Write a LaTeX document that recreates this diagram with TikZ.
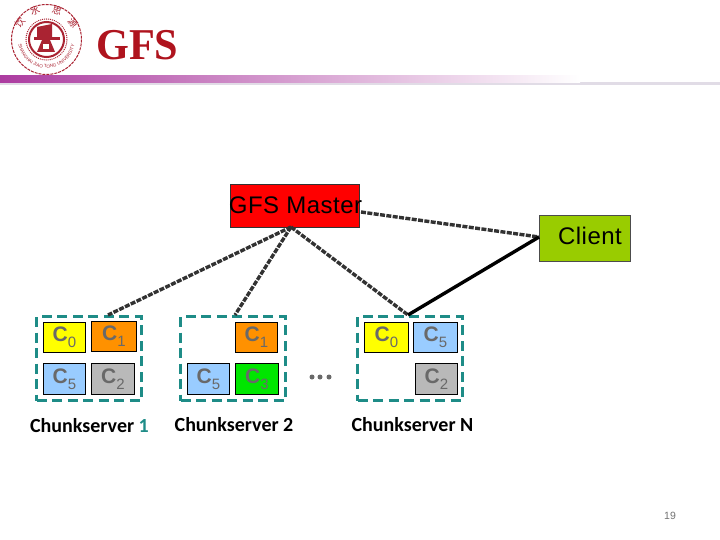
\documentclass[tikz,border=0pt]{standalone}
\usepackage{fontspec}
\setmainfont{Liberation Sans}
\newfontfamily\cjkf{Noto Sans CJK SC}
\newfontfamily\titlef{Liberation Serif}
\newfontfamily\labelf{Carlito}
\usetikzlibrary{decorations.text,shadings}
\definecolor{teal1}{RGB}{30,140,135}
\definecolor{logored}{RGB}{170,35,50}
\definecolor{titlered}{RGB}{175,20,30}
\definecolor{chunkgrey}{RGB}{105,105,105}
\definecolor{lineg}{RGB}{50,50,50}
\definecolor{cyellow}{RGB}{255,255,0}
\definecolor{corange}{RGB}{255,145,0}
\definecolor{cblue}{RGB}{153,204,255}
\definecolor{cgrey}{RGB}{185,185,185}
\definecolor{cgreen}{RGB}{0,230,0}
\definecolor{cclient}{RGB}{153,204,0}
\definecolor{barpurple}{RGB}{172,60,160}
\definecolor{barpale}{RGB}{225,220,230}
\tikzset{
  chunk/.style={draw=black,line width=0.9pt,inner sep=0pt,anchor=north west,
    font=\fontsize{21}{21}\selectfont\bfseries,text=chunkgrey},
  server/.style={draw=teal1,line width=3pt,dash pattern=on 10pt off 5.5pt,inner sep=0pt,anchor=north west,minimum width=105pt,minimum height=84pt},
  ctl/.style={draw=lineg,line width=3.4pt,dash pattern=on 5pt off 1.4pt},
  captext/.style={font=\labelf\bfseries\fontsize{20}{20}\selectfont,anchor=base},
  boxlabel/.style={font=\fontsize{24}{24}\selectfont\addfontfeature{LetterSpace=2},anchor=base,inner sep=0pt},
  logochar/.style={font=\cjkf\fontsize{9.5}{9.5}\selectfont,text=logored,inner sep=0pt},
}
\newcommand{\cname}[1]{C\raisebox{-6pt}{\fontsize{15}{15}\selectfont\mdseries\color{chunkgrey}#1}}
\begin{document}
\begin{tikzpicture}[x=1pt,y=-1pt]
\useasboundingbox (0,0) rectangle (720,540);
\fill[white] (0,0) rectangle (720,540);
% header bar
\fill[left color=barpale,right color=barpale,draw=none] (0,83) rectangle (720,85);
\fill[left color=barpurple,right color=white,draw=none] (0,76) rectangle (580,82.5);
% logo
\draw[logored,line width=1pt,dash pattern=on 3pt off 1pt] (46.5,39.5) circle (35);
\draw[logored,line width=2pt] (46.5,39.5) circle (17.5);
\draw[logored,line width=1pt,dash pattern=on 1pt off 1pt] (46.5,39.5) circle (20.5);
\fill[logored] (37,27) -- (52,24) -- (52,38) -- (37,38) -- cycle;
\fill[logored] (34,37) rectangle (60,40);
\fill[logored] (42,40) -- (50,40) -- (55,52) -- (37,52) -- cycle;
\fill[white] (43,44) rectangle (49,49);
\node[logochar,rotate=50] (lg1) at (20,23) {饮};
\node[logochar,rotate=18] (lg2) at (35,11) {水};
\node[logochar,rotate=-18] (lg3) at (57,11) {思};
\node[logochar,rotate=-50] (lg4) at (73,23) {源};
\path[decorate,decoration={text along path,text align=center,
  text={|\fontsize{4.6}{4.6}\selectfont\color{logored}|SHANGHAI JIAO TONG UNIVERSITY}}]
  (18,39.5) arc[start angle=180,end angle=0,radius=28.5];
% title
\node[font=\titlef\bfseries\fontsize{44}{44}\selectfont,text=titlered,anchor=base west,inner sep=0pt,xscale=0.96] (title) at (96,60) {GFS};
% servers
\node[server] (s1) at (35,315) {};
\node[server] (s2) at (179,315) {};
\node[server] (sn) at (356,315) {};
% chunks server 1
\node[chunk,fill=cyellow,minimum width=42pt,minimum height=30pt] (a0) at (43,322) {\cname{0}};
\node[chunk,fill=corange,minimum width=45pt,minimum height=30pt] (a1) at (91,321) {\cname{1}};
\node[chunk,fill=cblue,minimum width=42pt,minimum height=31pt] (a5) at (43,363) {\cname{5}};
\node[chunk,fill=cgrey,minimum width=43pt,minimum height=31pt] (a2) at (91,363) {\cname{2}};
% server 2
\node[chunk,fill=corange,minimum width=42pt,minimum height=30pt] (b1) at (235,322) {\cname{1}};
\node[chunk,fill=cblue,minimum width=42pt,minimum height=31pt] (b5) at (187,363) {\cname{5}};
\node[chunk,fill=cgreen,minimum width=43pt,minimum height=31pt] (b3) at (235,363) {\cname{3}};
% server N
\node[chunk,fill=cyellow,minimum width=44pt,minimum height=30pt] (n0) at (364,322) {\cname{0}};
\node[chunk,fill=cblue,minimum width=44pt,minimum height=30pt] (n5) at (413,322) {\cname{5}};
\node[chunk,fill=cgrey,minimum width=42pt,minimum height=31pt] (n2) at (415,363) {\cname{2}};
% dots
\foreach \x in {312,320,329}{\fill[chunkgrey] (\x,377) circle (2.5);}
% captions
\node[captext] (c1) at (89.5,432) {Chunkserver \textcolor{teal1}{1}};
\node[captext] (c2) at (234,431) {Chunkserver 2};
\node[captext] (c3) at (412.5,431) {Chunkserver N};
% master and client
\node[draw=black!80,line width=0.8pt,fill=red,minimum width=129pt,minimum height=43pt,inner sep=0pt,anchor=north west] (master) at (230,184) {};
\node[boxlabel] (mlabel) at (295.5,214) {GFS Master};
\node[draw=black!70,line width=0.8pt,fill=cclient,minimum width=91pt,minimum height=46pt,inner sep=0pt,anchor=north west] (client) at (539,215) {};
\node[boxlabel] (clabel) at (590,244) {Client};
% connectors
\coordinate (mb) at (291,227);
\coordinate (mr) at (361,212);
\coordinate (cl) at (539,237);
\coordinate (t1) at (108,315);
\coordinate (t2) at (235,315);
\coordinate (tn) at (408,315);
\draw[ctl] (mb) -- (t1);
\draw[ctl] (mb) -- (t2);
\draw[ctl] (mb) -- (tn);
\draw[ctl] (mr) -- (cl);
\draw[black,line width=3.4pt] (cl) -- (tn);
% page number
\node[font=\fontsize{10.5}{10.5}\selectfont,text=black!55,anchor=base] (pg) at (670,519) {19};
\end{tikzpicture}
\end{document}
